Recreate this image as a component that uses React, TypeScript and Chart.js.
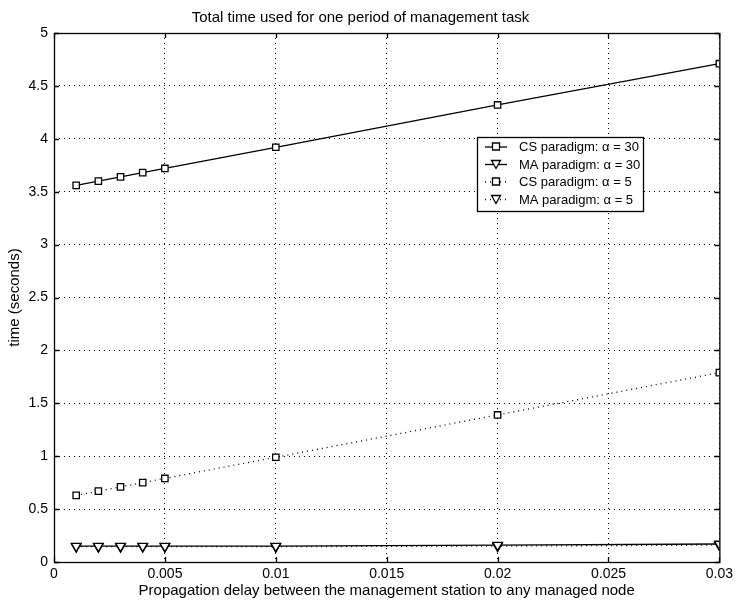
import React, { useEffect, useRef } from "react";
import { Chart, registerables } from "chart.js";

Chart.register(...registerables);

const delays = [0.001, 0.002, 0.003, 0.004, 0.005, 0.01, 0.02, 0.03];
const csAlpha30 = [3.56, 3.6, 3.64, 3.68, 3.72, 3.92, 4.32, 4.71];
const maAlpha30 = [0.15, 0.15, 0.15, 0.15, 0.15, 0.15, 0.16, 0.17];
const csAlpha5 = [0.63, 0.67, 0.71, 0.75, 0.79, 0.99, 1.39, 1.79];
const maAlpha5 = [0.145, 0.145, 0.145, 0.145, 0.145, 0.145, 0.15, 0.16];
const seriesLabels = [
  "CS paradigm: \u03b1 = 30",
  "MA paradigm: \u03b1 = 30",
  "CS paradigm: \u03b1 = 5",
  "MA paradigm: \u03b1 = 5",
];
const titleText = "Total time used for one period of management task";
const xTitle = "Propagation delay between the management station to any managed node";
const yTitle = "time (seconds)";

const FONT = "'Liberation Sans', Arial, Helvetica, sans-serif";

const toPts = (ys: number[]) => delays.map((x, i) => ({ x, y: ys[i] }));

const framePlugin = {
  id: "frame",
  afterDraw(chart: any) {
    const { ctx, chartArea } = chart;
    const { left, right, top, bottom } = chartArea;
    ctx.save();
    ctx.strokeStyle = "#000";
    ctx.lineWidth = 1.3;
    ctx.setLineDash([]);
    ctx.strokeRect(left + 0.5, top + 0.5, right - left, bottom - top);
    // inward ticks
    const xs = chart.scales.x;
    const ys = chart.scales.y;
    const tl = 5;
    ctx.beginPath();
    xs.ticks.forEach((t: any) => {
      const px = Math.round(xs.getPixelForValue(t.value)) + 0.5;
      ctx.moveTo(px, bottom);
      ctx.lineTo(px, bottom - tl);
      ctx.moveTo(px, top);
      ctx.lineTo(px, top + tl);
    });
    ys.ticks.forEach((t: any) => {
      const py = Math.round(ys.getPixelForValue(t.value)) + 0.5;
      ctx.moveTo(left, py);
      ctx.lineTo(left + tl, py);
      ctx.moveTo(right, py);
      ctx.lineTo(right - tl, py);
    });
    ctx.stroke();

    // legend
    const lx = left + 423;
    const ly = top + 104;
    const w = 166;
    const rowH = 17.5;
    const h = rowH * 4 + 4;
    ctx.lineWidth = 1.3;
    ctx.fillStyle = "#fff";
    ctx.fillRect(lx, ly, w, h);
    ctx.strokeRect(lx + 0.5, ly + 0.5, w, h);
    ctx.font = `13px ${FONT}`;
    ctx.textBaseline = "middle";
    ctx.textAlign = "left";
    chart.data.datasets.forEach((ds: any, i: number) => {
      const cy = ly + 9.5 + i * rowH;
      const x0 = lx + 8;
      const x1 = lx + 30;
      ctx.strokeStyle = "#000";
      ctx.lineWidth = 1.3;
      ctx.setLineDash(ds.borderDash || []);
      ctx.beginPath();
      ctx.moveTo(x0, cy + 0.5);
      ctx.lineTo(x1, cy + 0.5);
      ctx.stroke();
      ctx.setLineDash([]);
      const cx = (x0 + x1) / 2;
      ctx.fillStyle = "#fff";
      ctx.beginPath();
      if (ds.pointStyle === "rect") {
        ctx.rect(cx - 3.5, cy - 3.5, 7, 7);
      } else {
        ctx.moveTo(cx - 4.5, cy - 3.5);
        ctx.lineTo(cx + 4.5, cy - 3.5);
        ctx.lineTo(cx, cy + 4.5);
        ctx.closePath();
      }
      ctx.fill();
      ctx.stroke();
      ctx.fillStyle = "#000";
      ctx.fillText(ds.label, lx + 42, cy + 1);
    });
    ctx.restore();
  },
};

export default function App() {
  const ref = useRef<HTMLCanvasElement>(null);
  useEffect(() => {
    document.body.style.margin = "0";
    const canvas = ref.current;
    if (!canvas) return;
    const common = {
      borderColor: "#000",
      borderWidth: 1.3,
      pointBackgroundColor: "#fff",
      pointBorderColor: "#000",
      pointBorderWidth: 1.3,
      fill: false,
      tension: 0,
    };
    const chart = new Chart(canvas, {
      type: "line",
      data: {
        datasets: [
          { ...common, label: seriesLabels[0], data: toPts(csAlpha30), pointStyle: "rect", pointRadius: 4.5 },
          { ...common, label: seriesLabels[1], data: toPts(maAlpha30), pointStyle: "triangle", pointRotation: 180, pointRadius: 5.5 },
          { ...common, label: seriesLabels[2], data: toPts(csAlpha5), pointStyle: "rect", pointRadius: 4.5, borderDash: [1, 4] },
          { ...common, label: seriesLabels[3], data: toPts(maAlpha5), pointStyle: "triangle", pointRotation: 180, pointRadius: 5.5, borderDash: [1, 4] },
        ] as any,
      },
      options: {
        animation: false,
        responsive: false,
        devicePixelRatio: 1,
        layout: { padding: { left: 0, right: 16, top: 0, bottom: 0 } },
        plugins: {
          legend: { display: false },
          tooltip: { enabled: false },
          title: {
            display: true,
            text: titleText,
            color: "#000",
            font: { family: FONT, size: 15, weight: "normal" as any },
            padding: { top: 9, bottom: 6 },
          },
        },
        scales: {
          x: {
            type: "linear",
            min: 0,
            max: 0.03,
            ticks: {
              stepSize: 0.005,
              color: "#000",
              font: { family: FONT, size: 14 },
              padding: 4,
              maxRotation: 0,
              callback: (v: any) => String(Number(Number(v).toFixed(4))),
            },
            grid: { color: "#000", lineWidth: 1, drawTicks: false },
            border: { display: false, dash: [1, 4] },
            title: {
              display: true,
              text: xTitle,
              color: "#000",
              font: { family: FONT, size: 15 },
              padding: { top: 0, bottom: 3 },
            },
            afterFit: (s: any) => {
              s.height = 41;
            },
          },
          y: {
            type: "linear",
            min: 0,
            max: 5,
            ticks: {
              stepSize: 0.5,
              color: "#000",
              font: { family: FONT, size: 14 },
              padding: 6,
              callback: (v: any) => String(Number(Number(v).toFixed(2))),
            },
            grid: { color: "#000", lineWidth: 1, drawTicks: false },
            border: { display: false, dash: [1, 4] },
            title: {
              display: true,
              text: yTitle,
              color: "#000",
              font: { family: FONT, size: 15 },
              padding: { top: 6, bottom: 6 },
            },
            afterFit: (s: any) => {
              s.width = 54;
            },
          },
        },
      } as any,
      plugins: [framePlugin],
    });
    return () => chart.destroy();
  }, []);
  return (
    <div style={{ width: 737, height: 603, background: "#fff" }}>
      <canvas ref={ref} width={737} height={603} style={{ display: "block" }} />
    </div>
  );
}
